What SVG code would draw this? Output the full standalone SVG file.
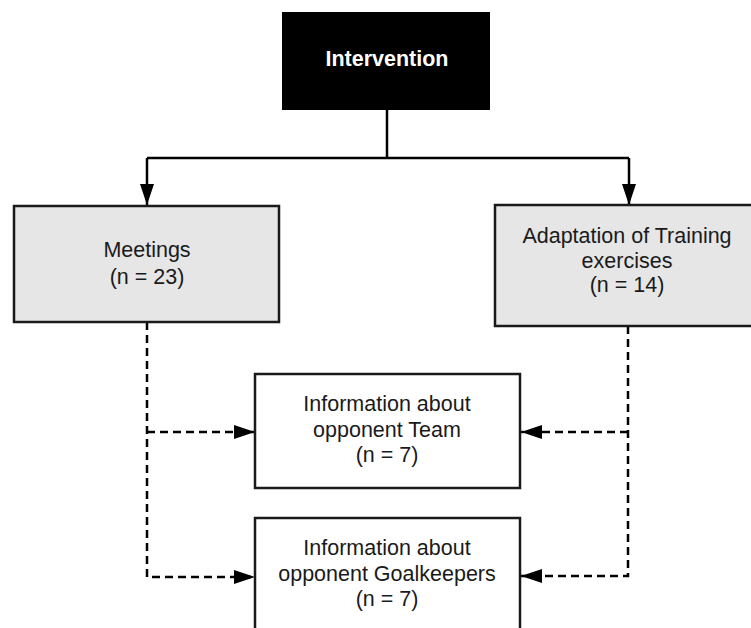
<svg xmlns="http://www.w3.org/2000/svg" width="751" height="628" viewBox="0 0 751 628">
<style>
text{font-family:"Liberation Sans",Arial,sans-serif;font-size:21.5px;fill:#1a1a1a;text-anchor:middle}
.b{font-weight:bold;fill:#ffffff}
.grey{fill:#e6e6e6;stroke:#1a1a1a;stroke-width:2.5}
.white{fill:#ffffff;stroke:#1a1a1a;stroke-width:2.5}
.solid{fill:none;stroke:#000;stroke-width:2.5}
.dash{fill:none;stroke:#000;stroke-width:2.5;stroke-dasharray:8 5}
</style>
<defs>
<marker id="ah" viewBox="0 0 21 14" refX="21" refY="7" markerWidth="21" markerHeight="14" markerUnits="userSpaceOnUse" orient="auto">
<path d="M0,0 L21,7 L0,14 Z" fill="#000"/>
</marker>
</defs>
<rect width="751" height="628" fill="#ffffff"/>
<g id="connectors">
<path class="solid" d="M387,110 V158"/>
<path class="solid" d="M147,158 H629"/>
<path class="solid" d="M147,158 V205" marker-end="url(#ah)"/>
<path class="solid" d="M629,158 V205" marker-end="url(#ah)"/>
<path class="dash" d="M147,322 V577 H255" marker-end="url(#ah)"/>
<path class="dash" d="M147,432 H255" marker-end="url(#ah)"/>
<path class="dash" d="M628,326 V576 H521" marker-end="url(#ah)"/>
<path class="dash" d="M628,432 H521" marker-end="url(#ah)"/>
</g>
<g id="intervention">
<rect x="282" y="12" width="208" height="98" fill="#000"/>
<text class="b" x="387" y="66">Intervention</text>
</g>
<g id="meetings">
<rect class="grey" x="14" y="206" width="265" height="116"/>
<text x="147" y="257">Meetings</text>
<text x="147" y="284">(n = 23)</text>
</g>
<g id="adaptation">
<rect class="grey" x="495" y="205" width="270" height="121"/>
<text x="627" y="243">Adaptation of Training</text>
<text x="627" y="268">exercises</text>
<text x="627" y="292">(n = 14)</text>
</g>
<g id="info-team">
<rect class="white" x="255" y="374" width="265" height="114"/>
<text x="387" y="411">Information about</text>
<text x="387" y="437">opponent Team</text>
<text x="387" y="462">(n = 7)</text>
</g>
<g id="info-goalkeepers">
<rect class="white" x="255" y="518" width="265" height="130"/>
<text x="387" y="555">Information about</text>
<text x="387" y="581">opponent Goalkeepers</text>
<text x="387" y="606">(n = 7)</text>
</g>
</svg>
